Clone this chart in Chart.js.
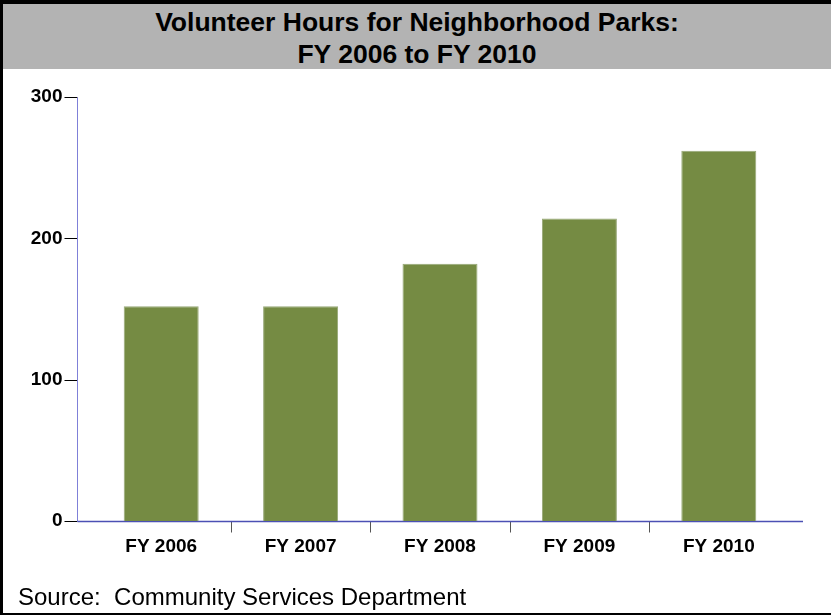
<!DOCTYPE html>
<html>
<head>
<meta charset="utf-8">
<title>Volunteer Hours for Neighborhood Parks</title>
<script src="https://cdn.jsdelivr.net/npm/chart.js@4.4.1/dist/chart.umd.min.js"></script>
<style>
  html, body { margin: 0; padding: 0; background: #fff; }
  #frame {
    position: relative;
    width: 831px;
    height: 615px;
    overflow: hidden;
    font-family: "Liberation Sans", Arial, sans-serif;
  }
  #frame canvas { position: absolute; left: 0; top: 0; }
  #border {
    position: absolute; left: 0; top: 0; right: 0; bottom: 0;
    box-sizing: border-box;
    border-left: 3px solid #000;
    border-top: 4px solid #000;
    border-bottom: 2px solid #000;
    pointer-events: none;
  }
  #title {
    position: absolute; left: 3px; top: 4px; right: 0;
    height: 63px;
    padding-top: 2px;
    background: #b3b3b3;
    text-align: center;
    font-weight: bold;
    font-size: 26.5px;
    line-height: 32px;
    color: #000;
  }
  #source {
    position: absolute; left: 18px; top: 585px;
    font-size: 24px;
    line-height: 24px;
    color: #000;
    white-space: pre;
  }
</style>
</head>
<body>
<div id="frame">
  <canvas id="barChart" width="831" height="615"></canvas>
  <div id="title">Volunteer Hours for Neighborhood Parks:<br>FY 2006 to FY 2010</div>
  <div id="source">Source:  Community Services Department</div>
  <div id="border"></div>
</div>
<script>
const categories = ['FY 2006', 'FY 2007', 'FY 2008', 'FY 2009', 'FY 2010'];
const volunteerHours = [152, 152, 182, 214, 262];
const yTicks = [0, 100, 200, 300];

// axis lines sit a little outside the category band, drawn under the bars
const axisLines = {
  id: 'axisLines',
  beforeDatasetsDraw(chart) {
    const { ctx, chartArea, scales: { x, y } } = chart;
    const ax = Math.round(chartArea.left - 14.5) + 0.5;
    const right = chartArea.right + 14.5;
    const y0 = Math.round(y.getPixelForValue(yTicks[0])) + 0.5;
    const yTop = Math.round(y.getPixelForValue(yTicks[yTicks.length - 1])) + 0.5;
    ctx.save();

    // y tick marks
    ctx.strokeStyle = '#000';
    ctx.lineWidth = 1;
    yTicks.forEach(v => {
      const py = Math.round(y.getPixelForValue(v)) + 0.5;
      ctx.beginPath();
      ctx.moveTo(ax - 13, py);
      ctx.lineTo(ax, py);
      ctx.stroke();
    });

    // x tick marks between categories
    ctx.strokeStyle = '#555';
    for (let i = 0; i < categories.length - 1; i++) {
      const px = Math.round((x.getPixelForValue(i) + x.getPixelForValue(i + 1)) / 2) + 0.5;
      ctx.beginPath();
      ctx.moveTo(px, y0);
      ctx.lineTo(px, y0 + 11);
      ctx.stroke();
    }

    // y axis
    ctx.strokeStyle = '#7f80d8';
    ctx.beginPath();
    ctx.moveTo(ax, yTop);
    ctx.lineTo(ax, y0);
    ctx.stroke();

    // x axis
    ctx.strokeStyle = '#4b50b4';
    ctx.lineWidth = 1.5;
    ctx.beginPath();
    ctx.moveTo(ax, y0);
    ctx.lineTo(right, y0);
    ctx.stroke();
    ctx.restore();
  }
};

const ctx = document.getElementById('barChart').getContext('2d');
new Chart(ctx, {
  type: 'bar',
  data: {
    labels: categories,
    datasets: [{
      label: 'Volunteer Hours',
      data: volunteerHours,
      backgroundColor: '#758b43',
      borderColor: '#97a877',
      borderWidth: 1,
      categoryPercentage: 1,
      barPercentage: 0.538
    }]
  },
  options: {
    responsive: false,
    animation: false,
    layout: { padding: { top: 97, bottom: 54, left: 0, right: 42.5 } },
    plugins: {
      legend: { display: false },
      tooltip: { enabled: false }
    },
    scales: {
      x: {
        offset: true,
        border: { display: false },
        grid: { display: false, drawTicks: false },
        ticks: {
          padding: 14,
          color: '#000',
          maxRotation: 0,
          font: { family: '"Liberation Sans", Arial, sans-serif', size: 19, weight: 'bold' }
        },
        afterFit(scale) { scale.height = 40; }
      },
      y: {
        min: yTicks[0],
        max: yTicks[yTicks.length - 1],
        border: { display: false },
        grid: { display: false, drawTicks: false },
        ticks: {
          stepSize: yTicks[1] - yTicks[0],
          padding: 29,
          color: '#000',
          font: { family: '"Liberation Sans", Arial, sans-serif', size: 19, weight: 'bold' }
        },
        afterFit(scale) { scale.width = 91.5; }
      }
    }
  },
  plugins: [axisLines]
});
</script>
</body>
</html>
